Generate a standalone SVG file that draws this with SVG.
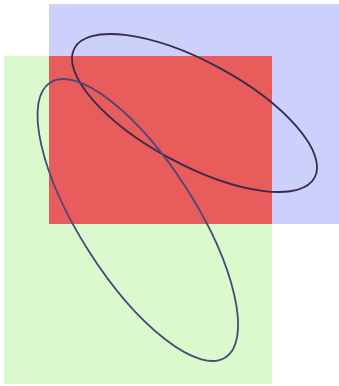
<svg xmlns="http://www.w3.org/2000/svg" width="339" height="386" viewBox="0 0 339 386">
<style>
.e{fill:none;stroke-width:1.8}
</style>
<rect width="339" height="386" fill="#ffffff"/>
<g id="blue"><rect x="49" y="4" width="290" height="220" fill="#ccd0fa"/></g>
<g id="green"><rect x="4" y="56" width="268" height="328" fill="#daface"/></g>
<g id="red"><rect x="49" y="56" width="223" height="168" fill="#e95c5c"/></g>
<g id="ellipse1"><ellipse class="e" cx="194.5" cy="113" rx="136.4" ry="51.5" transform="rotate(28.3 194.5 113)" stroke="#3a2a4e"/></g>
<g id="ellipse2"><ellipse class="e" cx="137.8" cy="220" rx="163" ry="58" transform="rotate(57.5 137.8 220)" stroke="#4a4878"/></g>
</svg>
